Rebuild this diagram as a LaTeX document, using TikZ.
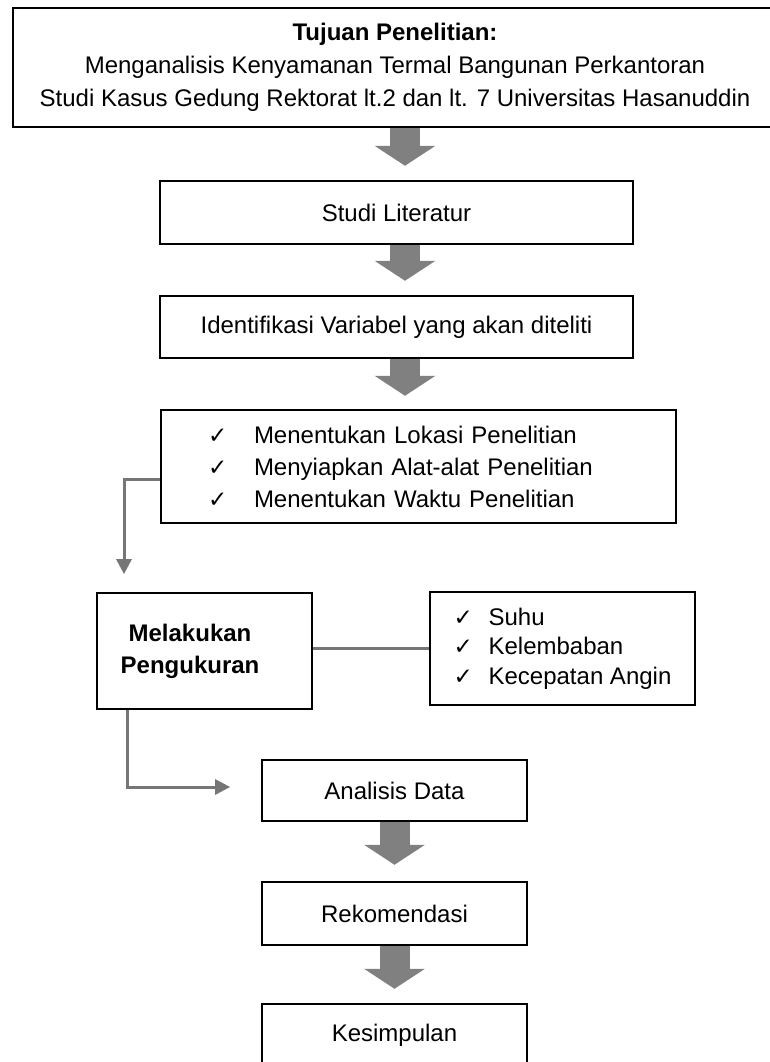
\documentclass[tikz,border=0pt]{standalone}
\usepackage{fontspec}
\setmainfont{Liberation Sans}
\newfontfamily\simbol{DejaVu Sans}
\usetikzlibrary{calc, arrows.meta, backgrounds}

\definecolor{abu}{RGB}{118,118,118}
\definecolor{abublok}{RGB}{128,128,128}

\newcommand{\cek}[1]{\makebox[#1][l]{\simbol\fontsize{23}{23}\selectfont ✓}}

\begin{document}
\begin{tikzpicture}[x=1pt, y=-1pt,
	kotak/.style={draw=black, line width=2.5pt, inner sep=0pt, font=\fontsize{24}{33}\selectfont},
	blokpanah/.style={draw=abublok, line width=30pt, -{Triangle[length=20pt, width=61pt, line width=0pt]}},
	garis/.style={draw=abu, line width=3pt},
	garispanah/.style={garis, -{Triangle[length=15pt, width=16pt, line width=0pt]}}]
	
	\useasboundingbox (0,0) rectangle (770,1062);
	\clip (0,0) rectangle (770,1062);
	
	\coordinate (sumbu) at (405,0);
	\coordinate (ujung1) at (124,574);
	\coordinate (ujung2) at (230,787);
	
	\begin{scope}
		\node[kotak, minimum width=764pt, minimum height=119pt, align=center] (tujuan) at (395,67.5)
			{\textbf{Tujuan Penelitian:}\\Menganalisis Kenyamanan Termal Bangunan Perkantoran\\Studi Kasus Gedung Rektorat lt.2 dan lt. 7 Universitas Hasanuddin};
		\node[kotak, minimum width=473pt, minimum height=63pt] (studi) at (396.5,212.5) {Studi Literatur};
		\node[kotak, minimum width=473pt, minimum height=62pt] (identifikasi) at (396.5,327) {Identifikasi Variabel yang akan diteliti};
		\node[kotak, minimum width=515pt, minimum height=113pt, text width=421pt, inner xsep=47pt, align=left,
			font=\fontsize{24}{32}\selectfont] (persiapan) at (418.5,466.5)
			{\cek{46pt}Menentukan Lokasi Penelitian\\\cek{46pt}Menyiapkan Alat-alat Penelitian\\\cek{46pt}Menentukan Waktu Penelitian};
		\node[kotak, minimum width=215pt, minimum height=116pt, font=\fontsize{24}{32}\selectfont\bfseries] (pengukuran) at (204.5,651)
			{\begin{tabular}{@{}c@{\hspace{29pt}}}Melakukan\\Pengukuran\end{tabular}};
		\node[kotak, minimum width=265pt, minimum height=113pt, align=left,
			font=\fontsize{24}{29.5}\selectfont] (variabel) at (562.5,648.5)
			{\cek{35pt}Suhu\\\cek{35pt}Kelembaban\\\cek{35pt}Kecepatan Angin};
		\node[kotak, minimum width=265pt, minimum height=61pt] (analisis) at (394.5,790.5) {Analisis Data};
		\node[kotak, minimum width=265pt, minimum height=63pt] (rekomendasi) at (394.5,913.5) {Rekomendasi};
		\node[kotak, minimum width=265pt, minimum height=63pt] (kesimpulan) at (394.5,1035.5) {Kesimpulan};
	\end{scope}
	
	\begin{scope}[on background layer]
		\draw[blokpanah] (tujuan.south -| sumbu) -- ($(studi.north -| sumbu)+(0,-14)$);
		\draw[blokpanah] (studi.south -| sumbu) -- ($(identifikasi.north -| sumbu)+(0,-14)$);
		\draw[blokpanah] (identifikasi.south -| sumbu) -- ($(persiapan.north -| sumbu)+(0,-13)$);
		\draw[blokpanah] (analisis.south) -- ($(rekomendasi.north)+(0,-16)$);
		\draw[blokpanah] (rekomendasi.south) -- ($(kesimpulan.north)+(0,-14)$);
		
		\draw[garispanah] ($(persiapan.west)+(0,12.5)$) -| (ujung1);
		\draw[garis] (pengukuran.east |- variabel.west) -- (variabel.west);
		\draw[garispanah] ($(pengukuran.south west)+(31.5,0)$) |- (ujung2);
	\end{scope}
\end{tikzpicture}
\end{document}
